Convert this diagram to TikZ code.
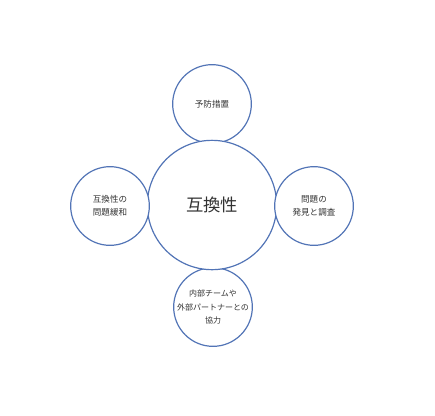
\documentclass[tikz,border=0pt]{standalone}
\usepackage{fontspec}
\setmainfont{Noto Sans CJK JP}
\usepackage{tikz}
\definecolor{ringblue}{RGB}{82,116,182}
\definecolor{labelgray}{RGB}{50,50,50}

\begin{document}
\begin{tikzpicture}
				[x=0.75pt,y=-0.75pt,every node/.style={circle,draw=ringblue,line width=0.9pt,fill=white,inner sep=0pt,align=center,text=labelgray,font=\fontsize{6.4pt}{9.6pt}\selectfont,minimum size=59pt}]
				\useasboundingbox (0,0) rectangle (435,415);
				\node (top) at (212,104) {予防措置};
				\node (bot) at (213,307) [inner sep=-6pt,font=\fontsize{6pt}{9.8pt}\selectfont] {内部チームや\\外部パートナーとの\\協力};
				\node (mid) at (212,205) [minimum size=97pt,font=\fontsize{13pt}{15pt}\selectfont] {互換性};
				\node (lft) at (110,206) {互換性の\\問題緩和};
				\node (rgt) at (314,206) {問題の\\発見と調査};
				\end{tikzpicture}
\end{document}
